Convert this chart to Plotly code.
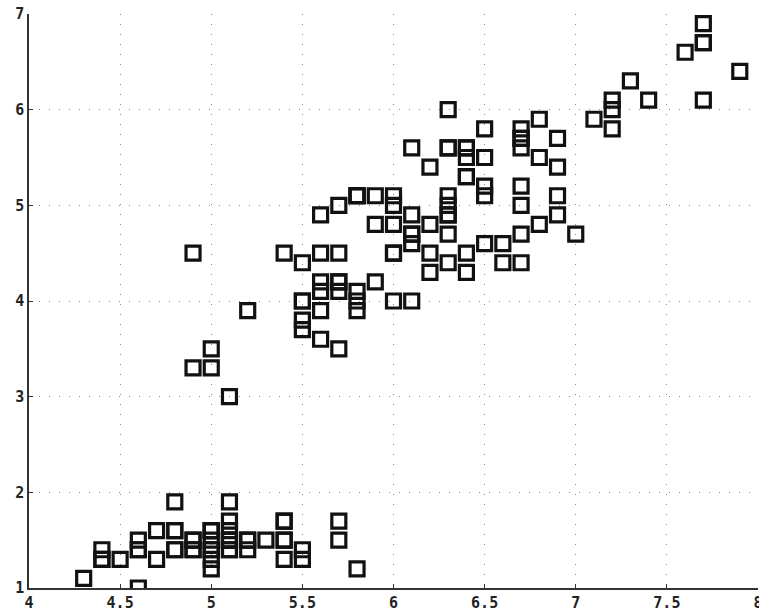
import plotly.graph_objects as go

sepal_length = [
    5.1, 4.9, 4.7, 4.6, 5.0, 5.4, 4.6, 5.0, 4.4, 4.9, 5.4, 4.8, 4.8, 4.3, 5.8, 5.7, 5.4, 5.1, 5.7, 5.1,
    5.4, 5.1, 4.6, 5.1, 4.8, 5.0, 5.0, 5.2, 5.2, 4.7, 4.8, 5.4, 5.2, 5.5, 4.9, 5.0, 5.5, 4.9, 4.4, 5.1,
    5.0, 4.5, 4.4, 5.0, 5.1, 4.8, 5.1, 4.6, 5.3, 5.0,
    7.0, 6.4, 6.9, 5.5, 6.5, 5.7, 6.3, 4.9, 6.6, 5.2, 5.0, 5.9, 6.0, 6.1, 5.6, 6.7, 5.6, 5.8, 6.2, 5.6,
    5.9, 6.1, 6.3, 6.1, 6.4, 6.6, 6.8, 6.7, 6.0, 5.7, 5.5, 5.5, 5.8, 6.0, 5.4, 6.0, 6.7, 6.3, 5.6, 5.5,
    5.5, 6.1, 5.8, 5.0, 5.6, 5.7, 5.7, 6.2, 5.1, 5.7,
    6.3, 5.8, 7.1, 6.3, 6.5, 7.6, 4.9, 7.3, 6.7, 7.2, 6.5, 6.4, 6.8, 5.7, 5.8, 6.4, 6.5, 7.7, 7.7, 6.0,
    6.9, 5.6, 7.7, 6.3, 6.7, 7.2, 6.2, 6.1, 6.4, 7.2, 7.4, 7.9, 6.4, 6.3, 6.1, 7.7, 6.3, 6.4, 6.0, 6.9,
    6.7, 6.9, 5.8, 6.8, 6.7, 6.7, 6.3, 6.5, 6.2, 5.9,
]
petal_length = [
    1.4, 1.4, 1.3, 1.5, 1.4, 1.7, 1.4, 1.5, 1.4, 1.5, 1.5, 1.6, 1.4, 1.1, 1.2, 1.5, 1.3, 1.4, 1.7, 1.5,
    1.7, 1.5, 1.0, 1.7, 1.9, 1.6, 1.6, 1.5, 1.4, 1.6, 1.6, 1.5, 1.5, 1.4, 1.5, 1.2, 1.3, 1.4, 1.3, 1.5,
    1.3, 1.3, 1.3, 1.6, 1.9, 1.4, 1.6, 1.4, 1.5, 1.4,
    4.7, 4.5, 4.9, 4.0, 4.6, 4.5, 4.7, 3.3, 4.6, 3.9, 3.5, 4.2, 4.0, 4.7, 3.6, 4.4, 4.5, 4.1, 4.5, 3.9,
    4.8, 4.0, 4.9, 4.7, 4.3, 4.4, 4.8, 5.0, 4.5, 3.5, 3.8, 3.7, 3.9, 5.1, 4.5, 4.5, 4.7, 4.4, 4.1, 4.0,
    4.4, 4.6, 4.0, 3.3, 4.2, 4.2, 4.2, 4.3, 3.0, 4.1,
    6.0, 5.1, 5.9, 5.6, 5.8, 6.6, 4.5, 6.3, 5.8, 6.1, 5.1, 5.3, 5.5, 5.0, 5.1, 5.3, 5.5, 6.7, 6.9, 5.0,
    5.7, 4.9, 6.7, 4.9, 5.7, 6.0, 4.8, 4.9, 5.6, 5.8, 6.1, 6.4, 5.6, 5.1, 5.6, 6.1, 5.6, 5.5, 4.8, 5.4,
    5.6, 5.1, 5.1, 5.9, 5.7, 5.2, 5.0, 5.2, 5.4, 5.1,
]
x_ticks = [4, 4.5, 5, 5.5, 6, 6.5, 7, 7.5, 8]
x_tick_labels = ["4", "4.5", "5", "5.5", "6", "6.5", "7", "7.5", "8"]
y_ticks = [1, 2, 3, 4, 5, 6, 7]
y_tick_labels = ["1", "2", "3", "4", "5", "6", "7"]

fig = go.Figure(
    go.Scatter(
        x=sepal_length,
        y=petal_length,
        mode="markers",
        marker=dict(
            symbol="square-open",
            size=14,
            color="#111111",
            line=dict(width=3.2, color="#111111"),
        ),
        hoverinfo="x+y",
    )
)

tickfont = dict(family="DejaVu Sans Mono", size=15, color="#222222", weight="bold")

common = dict(
    showgrid=True,
    gridcolor="#8a8a8a",
    griddash="1px,9px",
    gridwidth=1,
    zeroline=False,
    showline=True,
    linecolor="#333333",
    linewidth=1.5,
    ticks="inside",
    ticklen=4,
    tickcolor="#333333",
    tickfont=tickfont,
    ticklabeloverflow="allow",
    automargin=False,
    mirror=False,
)

fig.update_layout(
    width=759,
    height=612,
    margin=dict(l=29, r=1, t=14, b=24),
    paper_bgcolor="white",
    plot_bgcolor="white",
    showlegend=False,
    xaxis=dict(range=[4, 8], tickvals=x_ticks, ticktext=x_tick_labels, **common),
    yaxis=dict(range=[1, 7], tickvals=y_ticks, ticktext=y_tick_labels, **common),
)

fig.write_html("out.html")
